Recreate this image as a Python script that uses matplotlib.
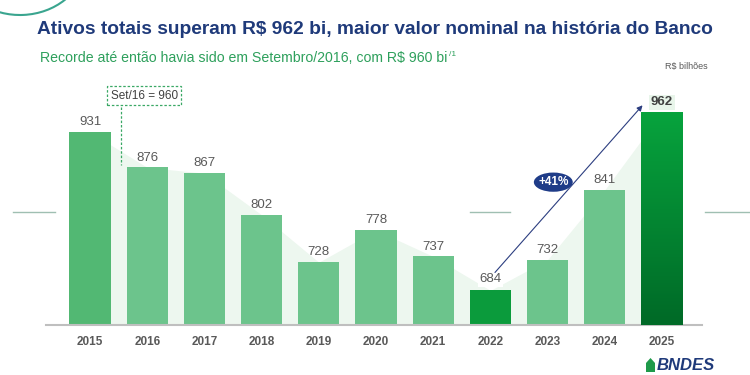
import numpy as np
import matplotlib.pyplot as plt
from matplotlib.patches import Ellipse, Arc, Polygon
from matplotlib.lines import Line2D
from matplotlib.colors import LinearSegmentedColormap

years = ['2015', '2016', '2017', '2018', '2019', '2020', '2021', '2022', '2023', '2024', '2025']
ativos = [931, 876, 867, 802, 728, 778, 737, 684, 732, 841, 962]
bar_colors = ['#52b873', '#6cc48c', '#6cc48c', '#6cc48c', '#6cc48c', '#6cc48c',
              '#6cc48c', '#0b9b3c', '#6cc48c', '#6cc48c', '#05923a']

titulo = 'Ativos totais superam R$ 962 bi, maior valor nominal na história do Banco'
subtitulo = 'Recorde até então havia sido em Setembro/2016, com R$ 960 bi'

plt.rcParams['font.family'] = ['Liberation Sans', 'DejaVu Sans']

fig = plt.figure(figsize=(7.5, 3.75), dpi=100)
fig.patch.set_facecolor('white')

# pedacos da linha tracejada do slide
yl = 1 - 212/375
for x0, x1 in [(13, 55), (470, 510), (705, 750)]:
    fig.add_artist(Line2D([x0/750, x1/750], [yl, yl], transform=fig.transFigure,
                          color='#9fbfb2', lw=1.0, zorder=0))

ax = fig.add_axes([46/750, 50/375, 656/750, 237/375])
ax.set_facecolor('none')
x = np.arange(len(years))

# area clara atras das barras
ax.fill_between(x, 630, ativos, color='#edf7ef', zorder=1, lw=0)

bars = ax.bar(x, ativos, width=0.72, color=bar_colors, zorder=2)
# gradiente escuro na ultima barra
last = bars[-1]
grad = np.linspace(0, 1, 100).reshape(-1, 1)
ax.imshow(grad, extent=[last.get_x(), last.get_x() + last.get_width(), 630, ativos[-1]],
          aspect='auto', cmap=LinearSegmentedColormap.from_list('g', ['#006a27', '#07a33d']),
          origin='lower', zorder=3)

for i, v in enumerate(ativos):
    if i == len(ativos) - 1:
        ax.text(i, v + 6, str(v), ha='center', va='bottom', fontsize=9.5,
                fontweight='bold', color='#404040', zorder=5,
                bbox=dict(boxstyle='square,pad=0.15', fc='#e8f5ea', ec='none'))
    elif years[i] == '2022':
        ax.text(i, v + 8, str(v), ha='center', va='bottom', fontsize=9.5,
                color='#595959', zorder=5,
                bbox=dict(boxstyle='square,pad=0.12', fc='white', ec='none'))
    else:
        ax.text(i, v + 6, str(v), ha='center', va='bottom', fontsize=9.5,
                color='#595959', zorder=5)

ax.set_xlim(-0.77, 10.70)
ax.set_ylim(630, 1000)
ax.set_xticks(x)
ax.set_xticklabels(years, fontsize=8.5, fontweight='bold', color='#595959')
ax.tick_params(axis='x', length=0, pad=8)
ax.set_yticks([])
for s in ['top', 'right', 'left']:
    ax.spines[s].set_visible(False)
ax.spines['bottom'].set_color('#bfbfbf')
ax.spines['bottom'].set_linewidth(1.5)

# caixa Set/16 = 960
ax.text(0.95, 988, 'Set/16 = 960', ha='center', va='center', fontsize=8.5, color='#404040',
        zorder=6, bbox=dict(boxstyle='square,pad=0.3', fc='white', ec='#3aa865',
                            ls=(0, (2, 1.5)), lw=0.9))
ax.plot([0.55, 0.55], [970, 880], color='#3aa865', lw=0.9, ls=(0, (2, 1.5)), zorder=6)

# seta de crescimento
ax.annotate('', xy=(9.66, 973), xytext=(7.08, 712),
            arrowprops=dict(arrowstyle='-|>', color='#2c3e80', lw=0.8,
                            mutation_scale=8, shrinkA=0, shrinkB=0), zorder=6)
ax.add_patch(Ellipse((8.1, 853), 0.68, 30, fc='#1f3c88', ec='none', zorder=7))
ax.text(8.1, 853, '+41%', ha='center', va='center', fontsize=8.5, fontweight='bold',
        color='white', zorder=8)

# textos do slide
fig.text(37/750, 1 - 30/375, titulo, fontsize=13.8, fontweight='bold', color='#1f3a7a',
         va='center', ha='left')
fig.text(40/750, 1 - 58/375, subtitulo, fontsize=10.2, color='#2ea05c', va='center', ha='left')
fig.text(449/750, 1 - 54/375, '/1', fontsize=6, color='#2ea05c', va='center', ha='left')
fig.text(686/750, 1 - 66/375, 'R$ bilhões', fontsize=6.5, color='#595959', va='center',
         ha='center')

# arco decorativo canto superior
fig.add_artist(Arc((20/750, 1 + 40/375), 130/750, 110/375, theta1=200, theta2=350,
                   transform=fig.transFigure, color='#3aa58f', lw=1.5))

# logo BNDES
fig.text(657/750, 1 - 366/375, 'BNDES', fontsize=12, fontweight='bold', color='#1f3a7a',
         va='center', ha='left', style='italic')
fig.add_artist(Polygon([(646/750, 3/375), (646/750, 12/375), (650.5/750, 17/375),
                        (655/750, 12/375), (655/750, 3/375)], closed=True,
                       transform=fig.transFigure, fc='#1f9a4a', ec='none'))

fig.savefig('out.png', dpi=100)
